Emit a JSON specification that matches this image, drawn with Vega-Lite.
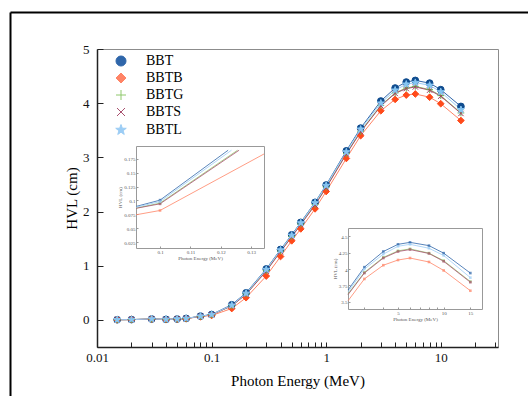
{
  "$schema": "https://vega.github.io/schema/vega-lite/v6.json",
  "width": 401,
  "height": 298,
  "autosize": {"type": "none"},
  "padding": {"left": 97, "top": 49, "right": 30, "bottom": 49},
  "background": "white",
  "config": {
    "view": {"stroke": "#8c8c8c", "strokeWidth": 1},
    "font": "Liberation Serif",
    "axis": {"grid": false, "labelOverlap": false, "labelFlush": false, "titleFontWeight": "normal", "labelFont": "Liberation Serif", "titleFont": "Liberation Serif"}
  },
  "datasets": {
    "main": [
      {"E": 0.015, "series": "BBT", "HVL": 0.003}, {"E": 0.02, "series": "BBT", "HVL": 0.006}, {"E": 0.03, "series": "BBT", "HVL": 0.017}, {"E": 0.04, "series": "BBT", "HVL": 0.010}, {"E": 0.05, "series": "BBT", "HVL": 0.017}, {"E": 0.06, "series": "BBT", "HVL": 0.027}, {"E": 0.08, "series": "BBT", "HVL": 0.07}, {"E": 0.1, "series": "BBT", "HVL": 0.10}, {"E": 0.15, "series": "BBT", "HVL": 0.28}, {"E": 0.2, "series": "BBT", "HVL": 0.50}, {"E": 0.3, "series": "BBT", "HVL": 0.94}, {"E": 0.4, "series": "BBT", "HVL": 1.30}, {"E": 0.5, "series": "BBT", "HVL": 1.57}, {"E": 0.6, "series": "BBT", "HVL": 1.80}, {"E": 0.8, "series": "BBT", "HVL": 2.17}, {"E": 1, "series": "BBT", "HVL": 2.49}, {"E": 1.5, "series": "BBT", "HVL": 3.12}, {"E": 2, "series": "BBT", "HVL": 3.54}, {"E": 3, "series": "BBT", "HVL": 4.04}, {"E": 4, "series": "BBT", "HVL": 4.28}, {"E": 5, "series": "BBT", "HVL": 4.39}, {"E": 6, "series": "BBT", "HVL": 4.42}, {"E": 8, "series": "BBT", "HVL": 4.37}, {"E": 10, "series": "BBT", "HVL": 4.25}, {"E": 15, "series": "BBT", "HVL": 3.94},
      {"E": 0.015, "series": "BBTB", "HVL": 0.003}, {"E": 0.02, "series": "BBTB", "HVL": 0.005}, {"E": 0.03, "series": "BBTB", "HVL": 0.015}, {"E": 0.04, "series": "BBTB", "HVL": 0.009}, {"E": 0.05, "series": "BBTB", "HVL": 0.015}, {"E": 0.06, "series": "BBTB", "HVL": 0.023}, {"E": 0.08, "series": "BBTB", "HVL": 0.062}, {"E": 0.1, "series": "BBTB", "HVL": 0.082}, {"E": 0.15, "series": "BBTB", "HVL": 0.21}, {"E": 0.2, "series": "BBTB", "HVL": 0.41}, {"E": 0.3, "series": "BBTB", "HVL": 0.81}, {"E": 0.4, "series": "BBTB", "HVL": 1.17}, {"E": 0.5, "series": "BBTB", "HVL": 1.46}, {"E": 0.6, "series": "BBTB", "HVL": 1.68}, {"E": 0.8, "series": "BBTB", "HVL": 2.05}, {"E": 1, "series": "BBTB", "HVL": 2.37}, {"E": 1.5, "series": "BBTB", "HVL": 2.98}, {"E": 2, "series": "BBTB", "HVL": 3.40}, {"E": 3, "series": "BBTB", "HVL": 3.86}, {"E": 4, "series": "BBTB", "HVL": 4.07}, {"E": 5, "series": "BBTB", "HVL": 4.15}, {"E": 6, "series": "BBTB", "HVL": 4.17}, {"E": 8, "series": "BBTB", "HVL": 4.11}, {"E": 10, "series": "BBTB", "HVL": 3.99}, {"E": 15, "series": "BBTB", "HVL": 3.68},
      {"E": 0.015, "series": "BBTG", "HVL": 0.003}, {"E": 0.02, "series": "BBTG", "HVL": 0.006}, {"E": 0.03, "series": "BBTG", "HVL": 0.016}, {"E": 0.04, "series": "BBTG", "HVL": 0.010}, {"E": 0.05, "series": "BBTG", "HVL": 0.016}, {"E": 0.06, "series": "BBTG", "HVL": 0.026}, {"E": 0.08, "series": "BBTG", "HVL": 0.067}, {"E": 0.1, "series": "BBTG", "HVL": 0.095}, {"E": 0.15, "series": "BBTG", "HVL": 0.26}, {"E": 0.2, "series": "BBTG", "HVL": 0.48}, {"E": 0.3, "series": "BBTG", "HVL": 0.91}, {"E": 0.4, "series": "BBTG", "HVL": 1.27}, {"E": 0.5, "series": "BBTG", "HVL": 1.54}, {"E": 0.6, "series": "BBTG", "HVL": 1.77}, {"E": 0.8, "series": "BBTG", "HVL": 2.13}, {"E": 1, "series": "BBTG", "HVL": 2.45}, {"E": 1.5, "series": "BBTG", "HVL": 3.07}, {"E": 2, "series": "BBTG", "HVL": 3.48}, {"E": 3, "series": "BBTG", "HVL": 3.96}, {"E": 4, "series": "BBTG", "HVL": 4.19}, {"E": 5, "series": "BBTG", "HVL": 4.28}, {"E": 6, "series": "BBTG", "HVL": 4.31}, {"E": 8, "series": "BBTG", "HVL": 4.25}, {"E": 10, "series": "BBTG", "HVL": 4.14}, {"E": 15, "series": "BBTG", "HVL": 3.82},
      {"E": 0.015, "series": "BBTS", "HVL": 0.003}, {"E": 0.02, "series": "BBTS", "HVL": 0.006}, {"E": 0.03, "series": "BBTS", "HVL": 0.016}, {"E": 0.04, "series": "BBTS", "HVL": 0.010}, {"E": 0.05, "series": "BBTS", "HVL": 0.016}, {"E": 0.06, "series": "BBTS", "HVL": 0.026}, {"E": 0.08, "series": "BBTS", "HVL": 0.066}, {"E": 0.1, "series": "BBTS", "HVL": 0.094}, {"E": 0.15, "series": "BBTS", "HVL": 0.26}, {"E": 0.2, "series": "BBTS", "HVL": 0.47}, {"E": 0.3, "series": "BBTS", "HVL": 0.90}, {"E": 0.4, "series": "BBTS", "HVL": 1.26}, {"E": 0.5, "series": "BBTS", "HVL": 1.53}, {"E": 0.6, "series": "BBTS", "HVL": 1.76}, {"E": 0.8, "series": "BBTS", "HVL": 2.12}, {"E": 1, "series": "BBTS", "HVL": 2.44}, {"E": 1.5, "series": "BBTS", "HVL": 3.06}, {"E": 2, "series": "BBTS", "HVL": 3.47}, {"E": 3, "series": "BBTS", "HVL": 3.95}, {"E": 4, "series": "BBTS", "HVL": 4.18}, {"E": 5, "series": "BBTS", "HVL": 4.27}, {"E": 6, "series": "BBTS", "HVL": 4.30}, {"E": 8, "series": "BBTS", "HVL": 4.24}, {"E": 10, "series": "BBTS", "HVL": 4.13}, {"E": 15, "series": "BBTS", "HVL": 3.81},
      {"E": 0.015, "series": "BBTL", "HVL": 0.003}, {"E": 0.02, "series": "BBTL", "HVL": 0.006}, {"E": 0.03, "series": "BBTL", "HVL": 0.017}, {"E": 0.04, "series": "BBTL", "HVL": 0.010}, {"E": 0.05, "series": "BBTL", "HVL": 0.017}, {"E": 0.06, "series": "BBTL", "HVL": 0.027}, {"E": 0.08, "series": "BBTL", "HVL": 0.069}, {"E": 0.1, "series": "BBTL", "HVL": 0.098}, {"E": 0.15, "series": "BBTL", "HVL": 0.27}, {"E": 0.2, "series": "BBTL", "HVL": 0.49}, {"E": 0.3, "series": "BBTL", "HVL": 0.93}, {"E": 0.4, "series": "BBTL", "HVL": 1.29}, {"E": 0.5, "series": "BBTL", "HVL": 1.56}, {"E": 0.6, "series": "BBTL", "HVL": 1.79}, {"E": 0.8, "series": "BBTL", "HVL": 2.16}, {"E": 1, "series": "BBTL", "HVL": 2.48}, {"E": 1.5, "series": "BBTL", "HVL": 3.10}, {"E": 2, "series": "BBTL", "HVL": 3.52}, {"E": 3, "series": "BBTL", "HVL": 4.00}, {"E": 4, "series": "BBTL", "HVL": 4.24}, {"E": 5, "series": "BBTL", "HVL": 4.35}, {"E": 6, "series": "BBTL", "HVL": 4.38}, {"E": 8, "series": "BBTL", "HVL": 4.33}, {"E": 10, "series": "BBTL", "HVL": 4.21}, {"E": 15, "series": "BBTL", "HVL": 3.88}
    ],
    "inset1": [
      {"E": 0.0921, "series": "BBT", "HVL": 0.0893}, {"E": 0.1, "series": "BBT", "HVL": 0.1006}, {"E": 0.1224, "series": "BBT", "HVL": 0.19},
      {"E": 0.0921, "series": "BBTB", "HVL": 0.0744}, {"E": 0.1, "series": "BBTB", "HVL": 0.0821}, {"E": 0.1342, "series": "BBTB", "HVL": 0.1833},
      {"E": 0.0921, "series": "BBTG", "HVL": 0.0863}, {"E": 0.1, "series": "BBTG", "HVL": 0.0952}, {"E": 0.1255, "series": "BBTG", "HVL": 0.19},
      {"E": 0.0921, "series": "BBTS", "HVL": 0.086}, {"E": 0.1, "series": "BBTS", "HVL": 0.094}, {"E": 0.126, "series": "BBTS", "HVL": 0.19},
      {"E": 0.0921, "series": "BBTL", "HVL": 0.088}, {"E": 0.1, "series": "BBTL", "HVL": 0.098}, {"E": 0.1235, "series": "BBTL", "HVL": 0.19}
    ],
    "inset2": [
      {"E": 2.34, "series": "BBT", "HVL": 3.68}, {"E": 3, "series": "BBT", "HVL": 4.03}, {"E": 4, "series": "BBT", "HVL": 4.27}, {"E": 5, "series": "BBT", "HVL": 4.38}, {"E": 6, "series": "BBT", "HVL": 4.41}, {"E": 8, "series": "BBT", "HVL": 4.36}, {"E": 10, "series": "BBT", "HVL": 4.245}, {"E": 15, "series": "BBT", "HVL": 3.94},
      {"E": 2.34, "series": "BBTB", "HVL": 3.515}, {"E": 3, "series": "BBTB", "HVL": 3.85}, {"E": 4, "series": "BBTB", "HVL": 4.06}, {"E": 5, "series": "BBTB", "HVL": 4.14}, {"E": 6, "series": "BBTB", "HVL": 4.17}, {"E": 8, "series": "BBTB", "HVL": 4.11}, {"E": 10, "series": "BBTB", "HVL": 3.98}, {"E": 15, "series": "BBTB", "HVL": 3.67},
      {"E": 2.34, "series": "BBTG", "HVL": 3.62}, {"E": 3, "series": "BBTG", "HVL": 3.95}, {"E": 4, "series": "BBTG", "HVL": 4.18}, {"E": 5, "series": "BBTG", "HVL": 4.28}, {"E": 6, "series": "BBTG", "HVL": 4.31}, {"E": 8, "series": "BBTG", "HVL": 4.245}, {"E": 10, "series": "BBTG", "HVL": 4.13}, {"E": 15, "series": "BBTG", "HVL": 3.81},
      {"E": 2.34, "series": "BBTS", "HVL": 3.61}, {"E": 3, "series": "BBTS", "HVL": 3.94}, {"E": 4, "series": "BBTS", "HVL": 4.17}, {"E": 5, "series": "BBTS", "HVL": 4.27}, {"E": 6, "series": "BBTS", "HVL": 4.30}, {"E": 8, "series": "BBTS", "HVL": 4.24}, {"E": 10, "series": "BBTS", "HVL": 4.12}, {"E": 15, "series": "BBTS", "HVL": 3.80},
      {"E": 2.34, "series": "BBTL", "HVL": 3.65}, {"E": 3, "series": "BBTL", "HVL": 4.00}, {"E": 4, "series": "BBTL", "HVL": 4.23}, {"E": 5, "series": "BBTL", "HVL": 4.35}, {"E": 6, "series": "BBTL", "HVL": 4.38}, {"E": 8, "series": "BBTL", "HVL": 4.32}, {"E": 10, "series": "BBTL", "HVL": 4.21}, {"E": 15, "series": "BBTL", "HVL": 3.87}
    ]
  },
  "layer": [
    {
      "data": {"name": "main"},
      "layer": [
        {
          "mark": {"type": "line", "strokeWidth": 1},
          "encoding": {
            "x": {"field": "E", "type": "quantitative",
              "scale": {"type": "log", "domain": [0.01, 31.6], "nice": false},
              "axis": {"orient": "bottom", "title": "Photon Energy (MeV)", "titleFontSize": 15, "titleColor": "#000", "titlePadding": 9,
                "values": [0.01, 0.02, 0.03, 0.04, 0.05, 0.06, 0.07, 0.08, 0.09, 0.1, 0.2, 0.3, 0.4, 0.5, 0.6, 0.7, 0.8, 0.9, 1, 2, 3, 4, 5, 6, 7, 8, 9, 10, 20, 30],
                "labelExpr": "indexof([0.01, 0.1, 1, 10], datum.value) >= 0 ? '' + datum.value : ''",
                "tickSize": -5,
                "labelPadding": 9, "labelFontSize": 13, "labelColor": "#111",
                "domainColor": "#222", "domainWidth": 1.5, "tickColor": "#222", "tickWidth": 1}},
            "y": {"field": "HVL", "type": "quantitative",
              "scale": {"domain": [-0.5, 5], "nice": false, "zero": false},
              "axis": {"orient": "left", "title": "HVL (cm)", "titleFontSize": 15, "titleColor": "#000", "titlePadding": 3,
                "values": [0, 0.5, 1, 1.5, 2, 2.5, 3, 3.5, 4, 4.5, 5],
                "labelExpr": "datum.value % 1 === 0 ? '' + datum.value : ''",
                "tickSize": -6,
                "labelPadding": 14, "labelFontSize": 13, "labelColor": "#111",
                "domainColor": "#222", "domainWidth": 1.5, "tickColor": "#222", "tickWidth": 1}},
            "color": {"field": "series", "type": "nominal",
              "scale": {"domain": ["BBT", "BBTB", "BBTG", "BBTS", "BBTL"], "range": ["#2f66aa", "#ff8466", "#8fc86c", "#a8506e", "#9ccdf5"]},
              "legend": {"orient": "none", "legendX": 17, "legendY": 5, "title": null, "padding": 0,
                "labelFont": "Liberation Serif", "labelFontSize": 14, "labelColor": "#000", "labelOffset": 18,
                "symbolSize": 100, "symbolStrokeWidth": 1, "rowPadding": 3,
                "encode": {"symbols": {"update": {
                  "shape": {"signal": "datum.value === 'BBT' ? 'M-3,0H3M-0.8,0A0.8,0.8 0 1,1 0.8,0A0.8,0.8 0 1,1 -0.8,0Z' : datum.value === 'BBTB' ? 'M-3,0H3M0,-0.85L0.85,0L0,0.85L-0.85,0Z' : datum.value === 'BBTG' ? 'M-3,0H3M0,-0.8V0.8' : datum.value === 'BBTS' ? 'M-3,0H3M-0.6,-0.6L0.6,0.6M-0.6,0.6L0.6,-0.6' : 'M-3,0H3M0,-0.9L0.212,-0.291L0.856,-0.278L0.342,0.111L0.529,0.728L0,0.36L-0.529,0.728L-0.342,0.111L-0.856,-0.278L-0.212,-0.291Z'"},
                  "fill": {"signal": "datum.value === 'BBT' ? '#0f4c8f' : datum.value === 'BBTB' ? '#ff4a1a' : datum.value === 'BBTL' ? '#86c5f2' : 'transparent'"},
                  "stroke": {"signal": "datum.value === 'BBT' ? '#2f66aa' : datum.value === 'BBTB' ? '#ff8466' : datum.value === 'BBTG' ? '#7cbc55' : datum.value === 'BBTS' ? '#a04868' : '#86c5f2'"},
                  "opacity": {"value": 1}
                }}}}}
          }
        },
        {
          "mark": {"type": "point", "filled": true, "size": 45, "strokeWidth": 1, "opacity": 1},
          "encoding": {
            "x": {"field": "E", "type": "quantitative", "scale": {"type": "log", "domain": [0.01, 31.6], "nice": false}},
            "y": {"field": "HVL", "type": "quantitative", "scale": {"domain": [-0.5, 5], "nice": false, "zero": false}},
            "fill": {"field": "series", "type": "nominal", "legend": null,
              "scale": {"domain": ["BBT", "BBTB", "BBTG", "BBTS", "BBTL"], "range": ["#0f4c8f", "#ff4a1a", "transparent", "transparent", "#86c5f2"]}},
            "stroke": {"field": "series", "type": "nominal", "legend": null,
              "scale": {"domain": ["BBT", "BBTB", "BBTG", "BBTS", "BBTL"], "range": ["#0f4c8f", "#ff4a1a", "#6ab04c", "#9c3d62", "#86c5f2"]}},
            "shape": {"field": "series", "type": "nominal", "legend": null,
              "scale": {"domain": ["BBT", "BBTB", "BBTG", "BBTS", "BBTL"], "range": ["circle", "diamond", "M-1,0H1M0,-1V1", "M-0.8,-0.8L0.8,0.8M-0.8,0.8L0.8,-0.8", "M0,-1.1L0.26,-0.36L1.05,-0.34L0.42,0.14L0.65,0.89L0,0.44L-0.65,0.89L-0.42,0.14L-1.05,-0.34L-0.26,-0.36Z"]}}
          }
        }
      ]
    },
    {
      "data": {"name": "inset1"},
      "layer": [
        {
          "mark": {"type": "line", "strokeWidth": 0.8},
          "encoding": {
            "x": {"field": "E", "type": "quantitative",
              "scale": {"domain": [0.0921, 0.1342], "range": [39, 167], "nice": false, "zero": false},
              "axis": {"orient": "bottom", "offset": -99, "values": [0.1, 0.11, 0.12, 0.13], "labelExpr": "'' + datum.value",
                "labelFontSize": 5, "labelColor": "#555", "tickSize": -2, "labelPadding": 3, "tickColor": "#999", "domainColor": "#999",
                "title": "Photon Energy (MeV)", "titleFontSize": 5, "titleColor": "#555", "titlePadding": 1}},
            "y": {"field": "HVL", "type": "quantitative",
              "scale": {"domain": [0.0149, 0.1976], "range": [199, 97], "nice": false, "zero": false},
              "axis": {"orient": "left", "offset": -39, "values": [0.025, 0.05, 0.075, 0.1, 0.125, 0.15, 0.175], "labelExpr": "'' + datum.value",
                "labelFontSize": 5, "labelColor": "#555", "tickSize": -2, "labelPadding": 3, "tickColor": "#999", "domainColor": "#999",
                "title": "HVL (cm)", "titleFontSize": 5, "titleColor": "#555", "titlePadding": 1}},
            "color": {"field": "series", "type": "nominal"}
          }
        },
        {
          "transform": [{"filter": "datum.E === 0.1"}],
          "mark": {"type": "point", "shape": "square", "filled": true, "size": 7},
          "encoding": {
            "x": {"field": "E", "type": "quantitative", "scale": {"domain": [0.0921, 0.1342], "range": [39, 167], "nice": false, "zero": false}},
            "y": {"field": "HVL", "type": "quantitative", "scale": {"domain": [0.0149, 0.1976], "range": [199, 97], "nice": false, "zero": false}},
            "color": {"field": "series", "type": "nominal"}
          }
        }
      ]
    },
    {
      "data": {"name": "inset1"},
      "mark": {"type": "point", "opacity": 0},
      "encoding": {
        "x": {"field": "E", "type": "quantitative",
          "scale": {"domain": [0.0921, 0.1342], "range": [39, 167], "nice": false, "zero": false},
          "axis": {"orient": "top", "offset": -97, "ticks": false, "labels": false, "title": null, "domainColor": "#999"}},
        "y": {"field": "HVL", "type": "quantitative",
          "scale": {"domain": [0.0149, 0.1976], "range": [199, 97], "nice": false, "zero": false},
          "axis": {"orient": "right", "offset": -234, "ticks": false, "labels": false, "title": null, "domainColor": "#999"}}
      }
    },
    {
      "data": {"name": "inset2"},
      "layer": [
        {
          "mark": {"type": "line", "strokeWidth": 0.8},
          "encoding": {
            "x": {"field": "E", "type": "quantitative",
              "scale": {"type": "log", "domain": [2.34, 17.9], "range": [251, 385], "nice": false},
              "axis": {"orient": "bottom", "offset": -38, "values": [3, 4, 5, 6, 7, 8, 9, 10, 15], "labelExpr": "indexof([5, 10, 15], datum.value) >= 0 ? '' + datum.value : ''",
                "labelFontSize": 5, "labelColor": "#555", "tickSize": -2, "labelPadding": 3, "tickColor": "#999", "domainColor": "#999",
                "title": "Photon Energy (MeV)", "titleFontSize": 5, "titleColor": "#555", "titlePadding": 1}},
            "y": {"field": "HVL", "type": "quantitative",
              "scale": {"domain": [3.39, 4.63], "range": [260, 179], "nice": false, "zero": false},
              "axis": {"orient": "left", "offset": -251, "values": [3.5, 3.75, 4, 4.25, 4.5], "labelExpr": "'' + datum.value",
                "labelFontSize": 5, "labelColor": "#555", "tickSize": -2, "labelPadding": 3, "tickColor": "#999", "domainColor": "#999",
                "title": "HVL (cm)", "titleFontSize": 5, "titleColor": "#555", "titlePadding": 1}},
            "color": {"field": "series", "type": "nominal"}
          }
        },
        {
          "transform": [{"filter": "datum.E >= 3"}],
          "mark": {"type": "point", "shape": "square", "filled": true, "size": 7},
          "encoding": {
            "x": {"field": "E", "type": "quantitative", "scale": {"type": "log", "domain": [2.34, 17.9], "range": [251, 385], "nice": false}},
            "y": {"field": "HVL", "type": "quantitative", "scale": {"domain": [3.39, 4.63], "range": [260, 179], "nice": false, "zero": false}},
            "color": {"field": "series", "type": "nominal"}
          }
        }
      ]
    },
    {
      "data": {"name": "inset2"},
      "mark": {"type": "point", "opacity": 0},
      "encoding": {
        "x": {"field": "E", "type": "quantitative",
          "scale": {"type": "log", "domain": [2.34, 17.9], "range": [251, 385], "nice": false},
          "axis": {"orient": "top", "offset": -179, "ticks": false, "labels": false, "title": null, "domainColor": "#999"}},
        "y": {"field": "HVL", "type": "quantitative",
          "scale": {"domain": [3.39, 4.63], "range": [260, 179], "nice": false, "zero": false},
          "axis": {"orient": "right", "offset": -16, "ticks": false, "labels": false, "title": null, "domainColor": "#999"}}
      }
    },
    {
      "data": {"name": "main"},
      "mark": {"type": "point", "opacity": 0},
      "encoding": {
        "x": {"field": "E", "type": "quantitative",
          "scale": {"domain": [0, 1], "range": [-87, 431], "nice": false, "zero": false},
          "axis": {"orient": "top", "offset": 37, "ticks": false, "labels": false, "title": null, "domainColor": "#000", "domainWidth": 2}},
        "y": {"field": "HVL", "type": "quantitative",
          "scale": {"domain": [0, 1], "range": [347, -37], "nice": false, "zero": false},
          "axis": {"orient": "left", "offset": 87, "ticks": false, "labels": false, "title": null, "domainColor": "#000", "domainWidth": 2}}
      }
    }
  ],
  "resolve": {"scale": {"x": "independent", "y": "independent"}, "axis": {"x": "independent", "y": "independent"}}
}
